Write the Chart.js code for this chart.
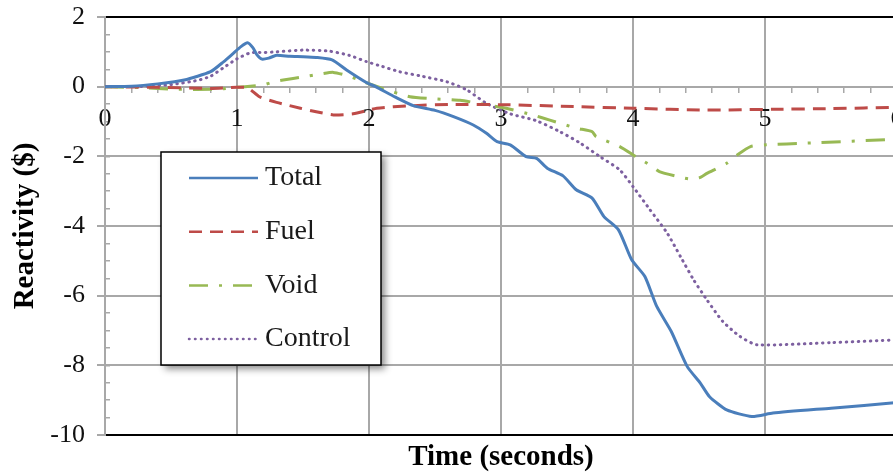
<!DOCTYPE html>
<html>
<head>
<meta charset="utf-8">
<script src="https://cdn.jsdelivr.net/npm/chart.js@4.4.1/dist/chart.umd.min.js"></script>
<style>
  html, body { margin: 0; padding: 0; background: #fff; overflow: hidden; }
  #wrap { width: 893px; height: 472px; overflow: hidden; }
</style>
</head>
<body>
<div id="wrap"><canvas id="reactivityChart" width="910" height="472"></canvas></div>
<script>
// reactivity components after the transient starts (time in s, reactivity in $)
const totalTime = [0, 0.2, 0.4, 0.6, 0.8, 0.9, 0.97, 1.03, 1.08, 1.12, 1.15, 1.19, 1.24, 1.3, 1.4, 1.5, 1.6, 1.72, 1.83, 1.98, 2.05, 2.2, 2.34, 2.5, 2.64, 2.79, 2.89, 2.97, 3.07, 3.19, 3.27, 3.35, 3.47, 3.57, 3.69, 3.78, 3.89, 3.99, 4.09, 4.18, 4.29, 4.41, 4.51, 4.58, 4.71, 4.9, 5.06, 5.5, 6.0];
const totalValues = [0, 0.01, 0.08, 0.19, 0.43, 0.72, 0.95, 1.15, 1.26, 1.12, 0.92, 0.79, 0.82, 0.9, 0.87, 0.86, 0.84, 0.77, 0.48, 0.12, 0, -0.3, -0.55, -0.68, -0.86, -1.1, -1.34, -1.58, -1.67, -2.01, -2.06, -2.34, -2.56, -2.96, -3.2, -3.73, -4.11, -4.97, -5.45, -6.31, -7.03, -8.03, -8.51, -8.9, -9.28, -9.47, -9.37, -9.23, -9.07];

const fuelTime = [0, 0.4, 0.8, 1.0, 1.08, 1.17, 1.3, 1.48, 1.6, 1.73, 1.88, 2.06, 2.31, 2.61, 3.04, 3.55, 4.0, 4.56, 5.06, 5.5, 6.0];
const fuelValues = [0, -0.02, -0.05, -0.02, -0.03, -0.29, -0.45, -0.62, -0.72, -0.81, -0.78, -0.62, -0.55, -0.51, -0.52, -0.57, -0.62, -0.67, -0.65, -0.63, -0.59];

const voidTime = [0, 0.3, 0.5, 0.7, 0.9, 1.0, 1.12, 1.2, 1.28, 1.35, 1.5, 1.63, 1.73, 1.85, 1.96, 2.1, 2.31, 2.5, 2.69, 2.89, 3.04, 3.24, 3.37, 3.57, 3.69, 3.72, 3.9, 4.03, 4.13, 4.2, 4.36, 4.43, 4.5, 4.56, 4.71, 4.79, 4.89, 5.01, 5.32, 6.0];
const voidValues = [0, -0.03, -0.07, -0.08, -0.06, -0.02, 0.02, 0.05, 0.14, 0.19, 0.28, 0.36, 0.41, 0.3, 0.14, -0.05, -0.29, -0.35, -0.39, -0.52, -0.62, -0.81, -0.96, -1.19, -1.29, -1.43, -1.72, -2.03, -2.25, -2.44, -2.6, -2.65, -2.62, -2.49, -2.2, -1.96, -1.72, -1.67, -1.62, -1.51];

const controlTime = [0, 0.3, 0.5, 0.7, 0.8, 0.9, 1.0, 1.1, 1.2, 1.3, 1.5, 1.7, 1.85, 1.98, 2.1, 2.23, 2.4, 2.59, 2.74, 2.89, 3.07, 3.27, 3.45, 3.6, 3.75, 3.9, 4.0, 4.13, 4.26, 4.36, 4.46, 4.56, 4.68, 4.81, 4.94, 5.5, 6.0];
const controlValues = [0, 0.01, 0.06, 0.18, 0.3, 0.55, 0.8, 0.97, 0.98, 1.0, 1.05, 1.02, 0.9, 0.72, 0.58, 0.43, 0.3, 0.14, -0.09, -0.48, -0.78, -0.98, -1.3, -1.62, -2.01, -2.39, -2.87, -3.54, -4.21, -4.88, -5.55, -6.12, -6.74, -7.17, -7.41, -7.35, -7.27];

const seriesLabels = ["Total", "Fuel", "Void", "Control"];
const timeTicks = [0, 1, 2, 3, 4, 5, 6];
const reactivityTicks = [-10, -8, -6, -4, -2, 0, 2];

const serif = '"Liberation Serif", "Times New Roman", serif';
const gridGray = "#a8a8a8";
Chart.defaults.font.family = serif;
Chart.defaults.color = "#111";

const toPoints = (xs, ys) => xs.map((x, i) => ({ x: x, y: ys[i] }));

function lineSet(label, xs, ys, color, dash, cap) {
  return {
    label: label,
    data: toPoints(xs, ys),
    borderColor: color,
    borderWidth: 3,
    borderDash: dash,
    borderCapStyle: cap || "butt",
    pointRadius: 0,
    tension: 0.2,
    fill: false,
    xAxisID: "x",
    yAxisID: "y",
  };
}

// axes placed at a value must not push the plot area around
function noPadding(scale) {
  scale.paddingLeft = 0;
  scale.paddingRight = 0;
  scale.paddingTop = 0;
  scale.paddingBottom = 0;
}

// framed legend with drop shadow, sitting inside the plot
const boxLegend = {
  id: "boxLegend",
  afterDraw(chart) {
    const ctx = chart.ctx;
    const left = 161, top = 152, width = 220, height = 213;
    ctx.save();
    ctx.shadowColor = "rgba(0,0,0,0.45)";
    ctx.shadowBlur = 7;
    ctx.shadowOffsetX = 4;
    ctx.shadowOffsetY = 4;
    ctx.fillStyle = "#fff";
    ctx.fillRect(left, top, width, height);
    ctx.restore();

    ctx.save();
    ctx.strokeStyle = "#000";
    ctx.lineWidth = 1.5;
    ctx.strokeRect(left, top, width, height);
    ctx.font = "28px " + serif;
    ctx.textBaseline = "middle";
    chart.data.datasets.forEach((ds, i) => {
      const y = top + 26 + i * 53.7;
      ctx.beginPath();
      ctx.setLineDash(ds.borderDash || []);
      ctx.lineCap = ds.borderCapStyle;
      ctx.strokeStyle = ds.borderColor;
      ctx.lineWidth = 2.5;
      ctx.moveTo(left + 28, y);
      ctx.lineTo(left + 97, y);
      ctx.stroke();
      ctx.setLineDash([]);
      ctx.fillStyle = "#1a1a1a";
      ctx.fillText(ds.label, left + 104, y);
    });
    ctx.restore();
  },
};

const isWhole = (v) => Math.abs(v - Math.round(v)) < 1e-6;

new Chart(document.getElementById("reactivityChart").getContext("2d"), {
  type: "line",
  data: {
    datasets: [
      lineSet(seriesLabels[0], totalTime, totalValues, "#4a7ebb", []),
      lineSet(seriesLabels[1], fuelTime, fuelValues, "#be4b48", [13, 8]),
      lineSet(seriesLabels[2], voidTime, voidValues, "#98b954", [19, 11, 3, 11]),
      lineSet(seriesLabels[3], controlTime, controlValues, "#7d60a0", [0.5, 5.5], "round"),
    ],
  },
  options: {
    responsive: false,
    animation: false,
    devicePixelRatio: 1,
    layout: { padding: { left: 0, right: 13, top: 0, bottom: 0 } },
    plugins: { legend: { display: false }, tooltip: { enabled: false } },
    scales: {
      x: {
        type: "linear",
        position: "bottom",
        min: 0,
        max: 6,
        afterBuildTicks: (scale) => { scale.ticks = timeTicks.map((v) => ({ value: v })); },
        ticks: { display: false },
        grid: { color: gridGray, lineWidth: 2, drawTicks: false },
        border: { color: "#000", width: 2 },
        title: {
          display: true,
          text: "Time (seconds)",
          font: { size: 29, weight: "bold", lineHeight: 1 },
          color: "#000",
          padding: 0,
        },
        afterFit: (scale) => { scale.height = 37; noPadding(scale); },
      },
      xTop: {
        axis: "x",
        type: "linear",
        position: "top",
        min: 0,
        max: 6,
        ticks: { display: false },
        grid: { display: false },
        border: { color: "#000", width: 2 },
        afterFit: (scale) => { scale.height = 17; noPadding(scale); },
      },
      // tick labels and minor marks along the zero line
      x2: {
        axis: "x",
        type: "linear",
        position: { y: 0 },
        min: 0,
        max: 6,
        ticks: {
          stepSize: 0.2,
          autoSkip: false,
          maxRotation: 0,
          padding: 11,
          font: { size: 26 },
          color: "#111",
          callback: (v) => (isWhole(v) ? String(Math.round(v)) : ""),
        },
        grid: { color: gridGray, lineWidth: 1.5, drawOnChartArea: false, tickLength: 6 },
        border: { display: false },
        afterFit: noPadding,
      },
      y: {
        type: "linear",
        position: "left",
        min: -10,
        max: 2,
        afterBuildTicks: (scale) => { scale.ticks = reactivityTicks.map((v) => ({ value: v })); },
        ticks: { font: { size: 26 }, color: "#111", padding: 12 },
        grid: { color: gridGray, lineWidth: 2, tickLength: 8 },
        border: { color: gridGray, width: 2 },
        title: {
          display: true,
          text: "Reactivity ($)",
          font: { size: 29, weight: "bold", lineHeight: 1.2 },
          color: "#000",
          padding: { top: 8, bottom: 0 },
        },
        afterFit: (scale) => { scale.width = 105; noPadding(scale); },
      },
      // minor marks on the inner side of the left axis
      y2: {
        axis: "y",
        type: "linear",
        position: { x: 0.035 },
        min: -10,
        max: 2,
        ticks: { display: false, stepSize: 0.5 },
        grid: { color: gridGray, lineWidth: 1.5, drawOnChartArea: false, tickLength: 4 },
        border: { display: false },
        afterFit: noPadding,
      },
    },
  },
  plugins: [boxLegend],
});
</script>
</body>
</html>
